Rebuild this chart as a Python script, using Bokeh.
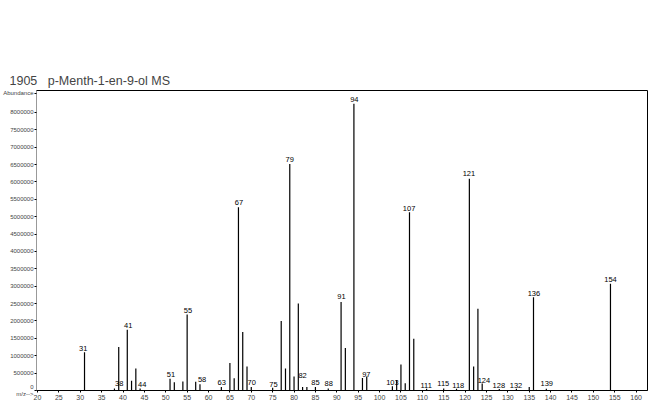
from bokeh.plotting import figure
from bokeh.models import ColumnDataSource, FixedTicker, Range1d, BasicTickFormatter
from bokeh.core.properties import value
from bokeh.embed import file_html
from bokeh.resources import INLINE

# m/z values and abundances
mz = [31, 38, 39, 41, 42, 43, 44, 51, 52, 54, 55, 57, 58, 63, 65, 66, 67, 68, 69, 70,
      75, 77, 78, 79, 80, 81, 82, 83, 85, 88, 91, 92, 94, 96, 97, 103, 104, 105, 106,
      107, 108, 111, 115, 118, 121, 122, 123, 124, 128, 132, 135, 136, 139, 154]
abundance = [1100000, 60000, 1250000, 1750000, 280000, 630000, 60000, 340000, 240000, 260000,
             2190000, 250000, 180000, 100000, 790000, 350000, 5270000, 1680000, 690000, 100000,
             80000, 2000000, 630000, 6520000, 400000, 2500000, 100000, 100000, 100000, 60000,
             2550000, 1220000, 8250000, 360000, 400000, 120000, 300000, 750000, 210000,
             5130000, 1490000, 50000, 60000, 50000, 6090000, 690000, 2350000, 200000, 40000,
             50000, 100000, 2680000, 50000, 3070000]

# peak labels: text, x position (m/z), y position (abundance)
label_text = ["31", "38", "41", "44", "51", "55", "58", "63", "67", "70", "75", "79", "82", "85",
              "88", "91", "94", "97", "103", "107", "111", "115", "118", "121", "124", "128",
              "132", "136", "139", "154"]
label_x = [30.7, 39.1, 41.2, 44.5, 51.2, 55.2, 58.5, 63.1, 67.1, 70.1, 75.2, 79.0, 82.0, 85.0,
           88.1, 91.1, 94.1, 96.9, 103.0, 106.9, 110.9, 114.9, 118.4, 120.9, 124.4, 127.9,
           131.9, 136.1, 139.1, 154.0]
label_y = [1120000, 90000, 1780000, 60000, 350000, 2210000, 230000, 140000, 5300000, 120000,
           60000, 6560000, 320000, 140000, 90000, 2590000, 8260000, 370000, 120000, 5150000,
           30000, 90000, 30000, 6130000, 200000, 30000, 30000, 2700000, 90000, 3100000]

x_ticks = list(range(20, 161, 5))
y_ticks = list(range(0, 8000001, 500000))
y_title_pos = 8550000

FONT = "Liberation Sans"

p = figure(width=650, height=403, output_backend="svg", toolbar_location=None,
           x_range=Range1d(19.77, 162.66), y_range=Range1d(0, 8633000),
           min_border_left=31, min_border_right=3, min_border_top=90, min_border_bottom=13,
           title="1905\u00a0\u00a0 p-Menth-1-en-9-ol MS")
p.title.text_font = FONT
p.title.text_font_size = "12.5px"
p.title.text_font_style = "normal"
p.title.align = "left"
p.title.offset = -27
p.title.standoff = 5

p.xgrid.visible = False
p.ygrid.visible = False
p.outline_line_color = "black"
p.outline_line_width = 1
p.background_fill_color = "white"
p.border_fill_color = "white"

src = ColumnDataSource(dict(x=mz, top=abundance, bottom=[0] * len(mz)))
p.segment(x0="x", y0="bottom", x1="x", y1="top", source=src, line_color="black", line_width=1.2)

lsrc = ColumnDataSource(dict(x=label_x, y=label_y, t=label_text))
p.text(x="x", y="y", text="t", source=lsrc, text_align="center", text_baseline="bottom",
       text_font_size="7.5px", text_font=value(FONT), text_color="black", y_offset=-1)

p.xaxis.ticker = FixedTicker(ticks=x_ticks)
p.xaxis.major_label_text_font_size = "7px"
p.xaxis.major_label_text_font = FONT
p.xaxis.major_label_standoff = 2
p.xaxis.major_tick_out = 2
p.xaxis.major_tick_in = 0
p.xaxis.minor_tick_line_color = None
p.xaxis.axis_line_dash = "3 2"

p.yaxis.ticker = FixedTicker(ticks=y_ticks + [y_title_pos])
p.yaxis.formatter = BasicTickFormatter(use_scientific=False)
p.yaxis.major_label_overrides = {y_title_pos: "Abundance", 0: "0\nm/z-->"}
p.yaxis.major_label_text_font_size = "6px"
p.yaxis.major_label_text_font = FONT
p.yaxis.major_label_standoff = 1
p.yaxis.major_tick_out = 2
p.yaxis.major_tick_in = 0
p.yaxis.minor_tick_line_color = None
p.yaxis.axis_line_color = "#999999"

open("out.html", "w").write(file_html(p, INLINE))
